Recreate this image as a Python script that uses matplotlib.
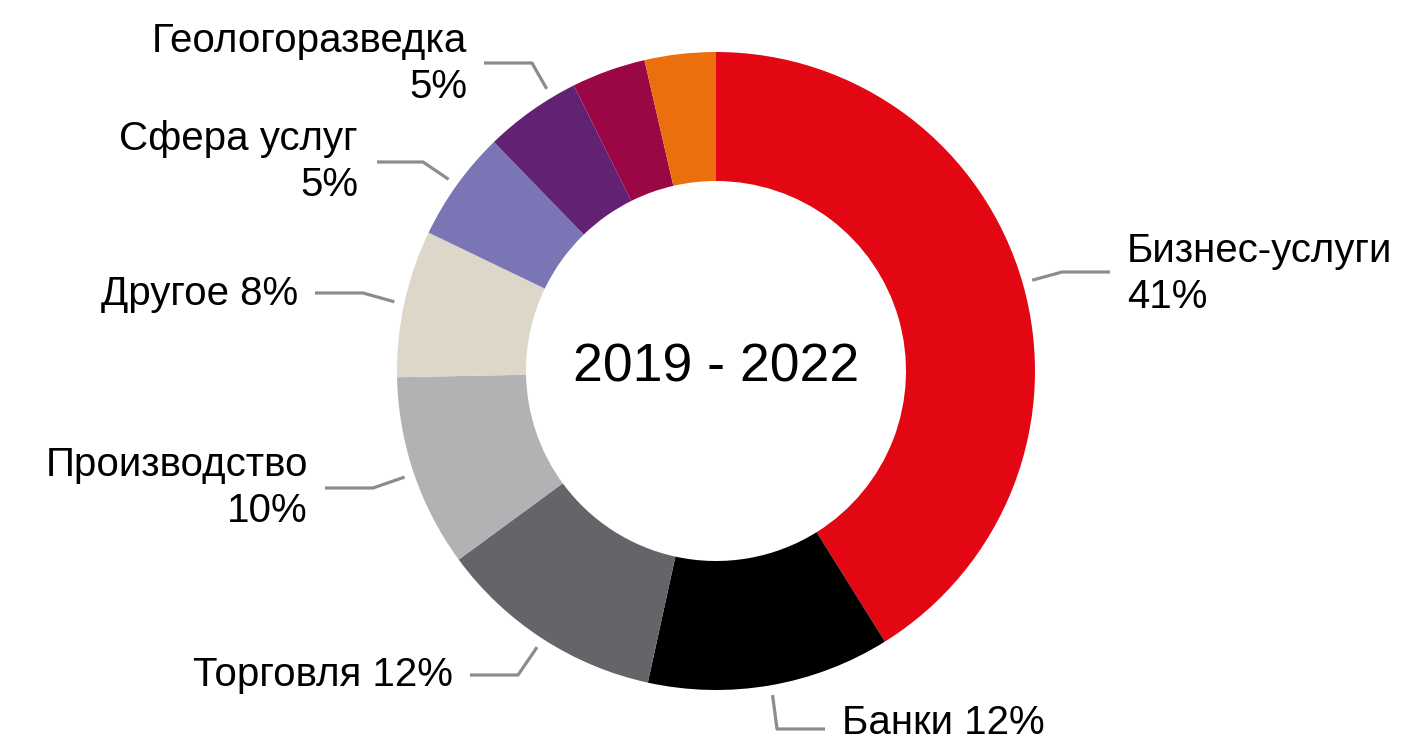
import numpy as np
import matplotlib
matplotlib.use('Agg')
import matplotlib.pyplot as plt

# shares, clockwise from the top
sectors = ['Бизнес-услуги', 'Банки', 'Торговля', 'Производство', 'Другое',
           'Сфера услуг', 'Геологоразведка', '', '']
shares = [41.1, 12.3, 11.5, 9.75, 7.45, 5.6, 4.9, 3.75, 3.6]
labels = ['Бизнес-услуги\n41%', 'Банки 12%', 'Торговля 12%', 'Производство\n10%',
          'Другое 8%', 'Сфера услуг\n5%', 'Геологоразведка\n5%', None, None]
colors = ['#E30613', '#000000', '#636569', '#B1B2B4', '#DCD7C9',
          '#7A75B4', '#622274', '#9B0645', '#EC6F0E']
center_text = '2019 - 2022'

# layout in picture pixels (y measured from the top)
W, H = 1408, 746
cx, cy = 716, 371
r_out, r_in = 319, 190
r_lead = 329
# (elbow, line end, text anchor, ha, angle nudge in degrees)
lead = [((1062, 272), (1110, 272), (1127, 274), 'left', 0),
        ((777, 729), (825, 729), (842, 723), 'left', 0),
        ((518, 675), (470, 675), (453, 675), 'right', 0),
        ((373, 488), (325, 488), (308, 488), 'right', 0),
        ((363, 293), (315, 293), (298, 294), 'right', 0),
        ((423, 162), (377, 162), (358, 162), 'right', 0),
        ((532, 63), (484, 63), (467, 64), 'right', 4.5)]

plt.rcParams['font.family'] = ['Liberation Sans', 'DejaVu Sans']

def Y(y):
    return H - y

fig = plt.figure(figsize=(W / 100, H / 100), dpi=100)
ax = fig.add_axes([0, 0, 1, 1])
ax.pie(shares, colors=colors, startangle=90, counterclock=False,
       center=(cx, Y(cy)), radius=r_out,
       wedgeprops=dict(width=r_out - r_in, linewidth=0))
ax.set_xlim(0, W)
ax.set_ylim(0, H)
ax.set_aspect('equal')
ax.axis('off')

ax.text(cx, Y(367), center_text, fontsize=38.5, ha='center', va='center')

cum = np.cumsum([0] + shares)
for i, lab in enumerate(labels):
    if lab is None:
        continue
    elbow, end, tpos, ha, nudge = lead[i]
    mid = (cum[i] + cum[i + 1]) / 2
    ang = np.deg2rad(90 - 360 * mid / 100 - nudge)
    sx = cx + r_lead * np.cos(ang)
    sy = Y(cy) + r_lead * np.sin(ang)
    ax.plot([sx, elbow[0], end[0]], [sy, Y(elbow[1]), Y(end[1])],
            color='#8C8C8C', lw=2.3, solid_capstyle='butt')
    ax.text(tpos[0], Y(tpos[1]), lab, fontsize=29, ha=ha, va='center',
            multialignment=ha, linespacing=1.3)

fig.savefig('out.png', dpi=100)
plt.close()
